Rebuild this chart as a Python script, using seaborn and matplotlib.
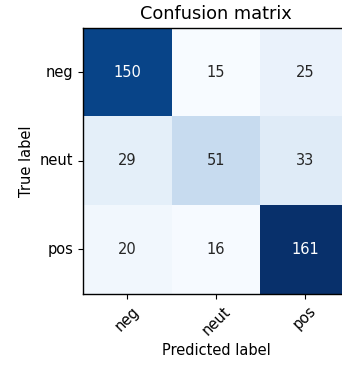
import numpy as np
import pandas as pd
import matplotlib
matplotlib.use("Agg")
import matplotlib.pyplot as plt
import seaborn as sns

# ---------------- data ----------------
classes = ["neg", "neut", "pos"]
row_neg = [150, 15, 25]
row_neut = [29, 51, 33]
row_pos = [20, 16, 161]

cm = pd.DataFrame([row_neg, row_neut, row_pos], index=classes, columns=classes)

# ---------------- plot ----------------
sns.set_style("white")
plt.rcParams["font.family"] = ["DejaVu Sans"]
plt.rcParams["text.color"] = "black"
plt.rcParams["axes.labelcolor"] = "black"
plt.rcParams["xtick.color"] = "black"
plt.rcParams["ytick.color"] = "black"

fig = plt.figure(figsize=(3.42, 3.65), dpi=100)
ax = fig.add_axes([0.243, 0.195, 0.778, 0.729])

sns.heatmap(cm, annot=True, fmt="d", cmap="Blues", cbar=False,
            vmin=cm.values.min(), vmax=cm.values.max(),
            annot_kws={"fontsize": 10.5}, ax=ax)

for s in ax.spines.values():
    s.set_visible(True)
    s.set_color("black")
    s.set_linewidth(1.0)

ax.tick_params(axis="both", length=3.5, width=0.8,
               labelsize=10.5, left=True, bottom=True)
ax.set_xticklabels(classes, rotation=45)
ax.set_yticklabels(classes, rotation=0)

ax.set_title("Confusion matrix", fontsize=12.8)
ax.set_xlabel("Predicted label", fontsize=10.5)
ax.set_ylabel("True label", fontsize=10.5)

fig.savefig("out.png", dpi=100)
